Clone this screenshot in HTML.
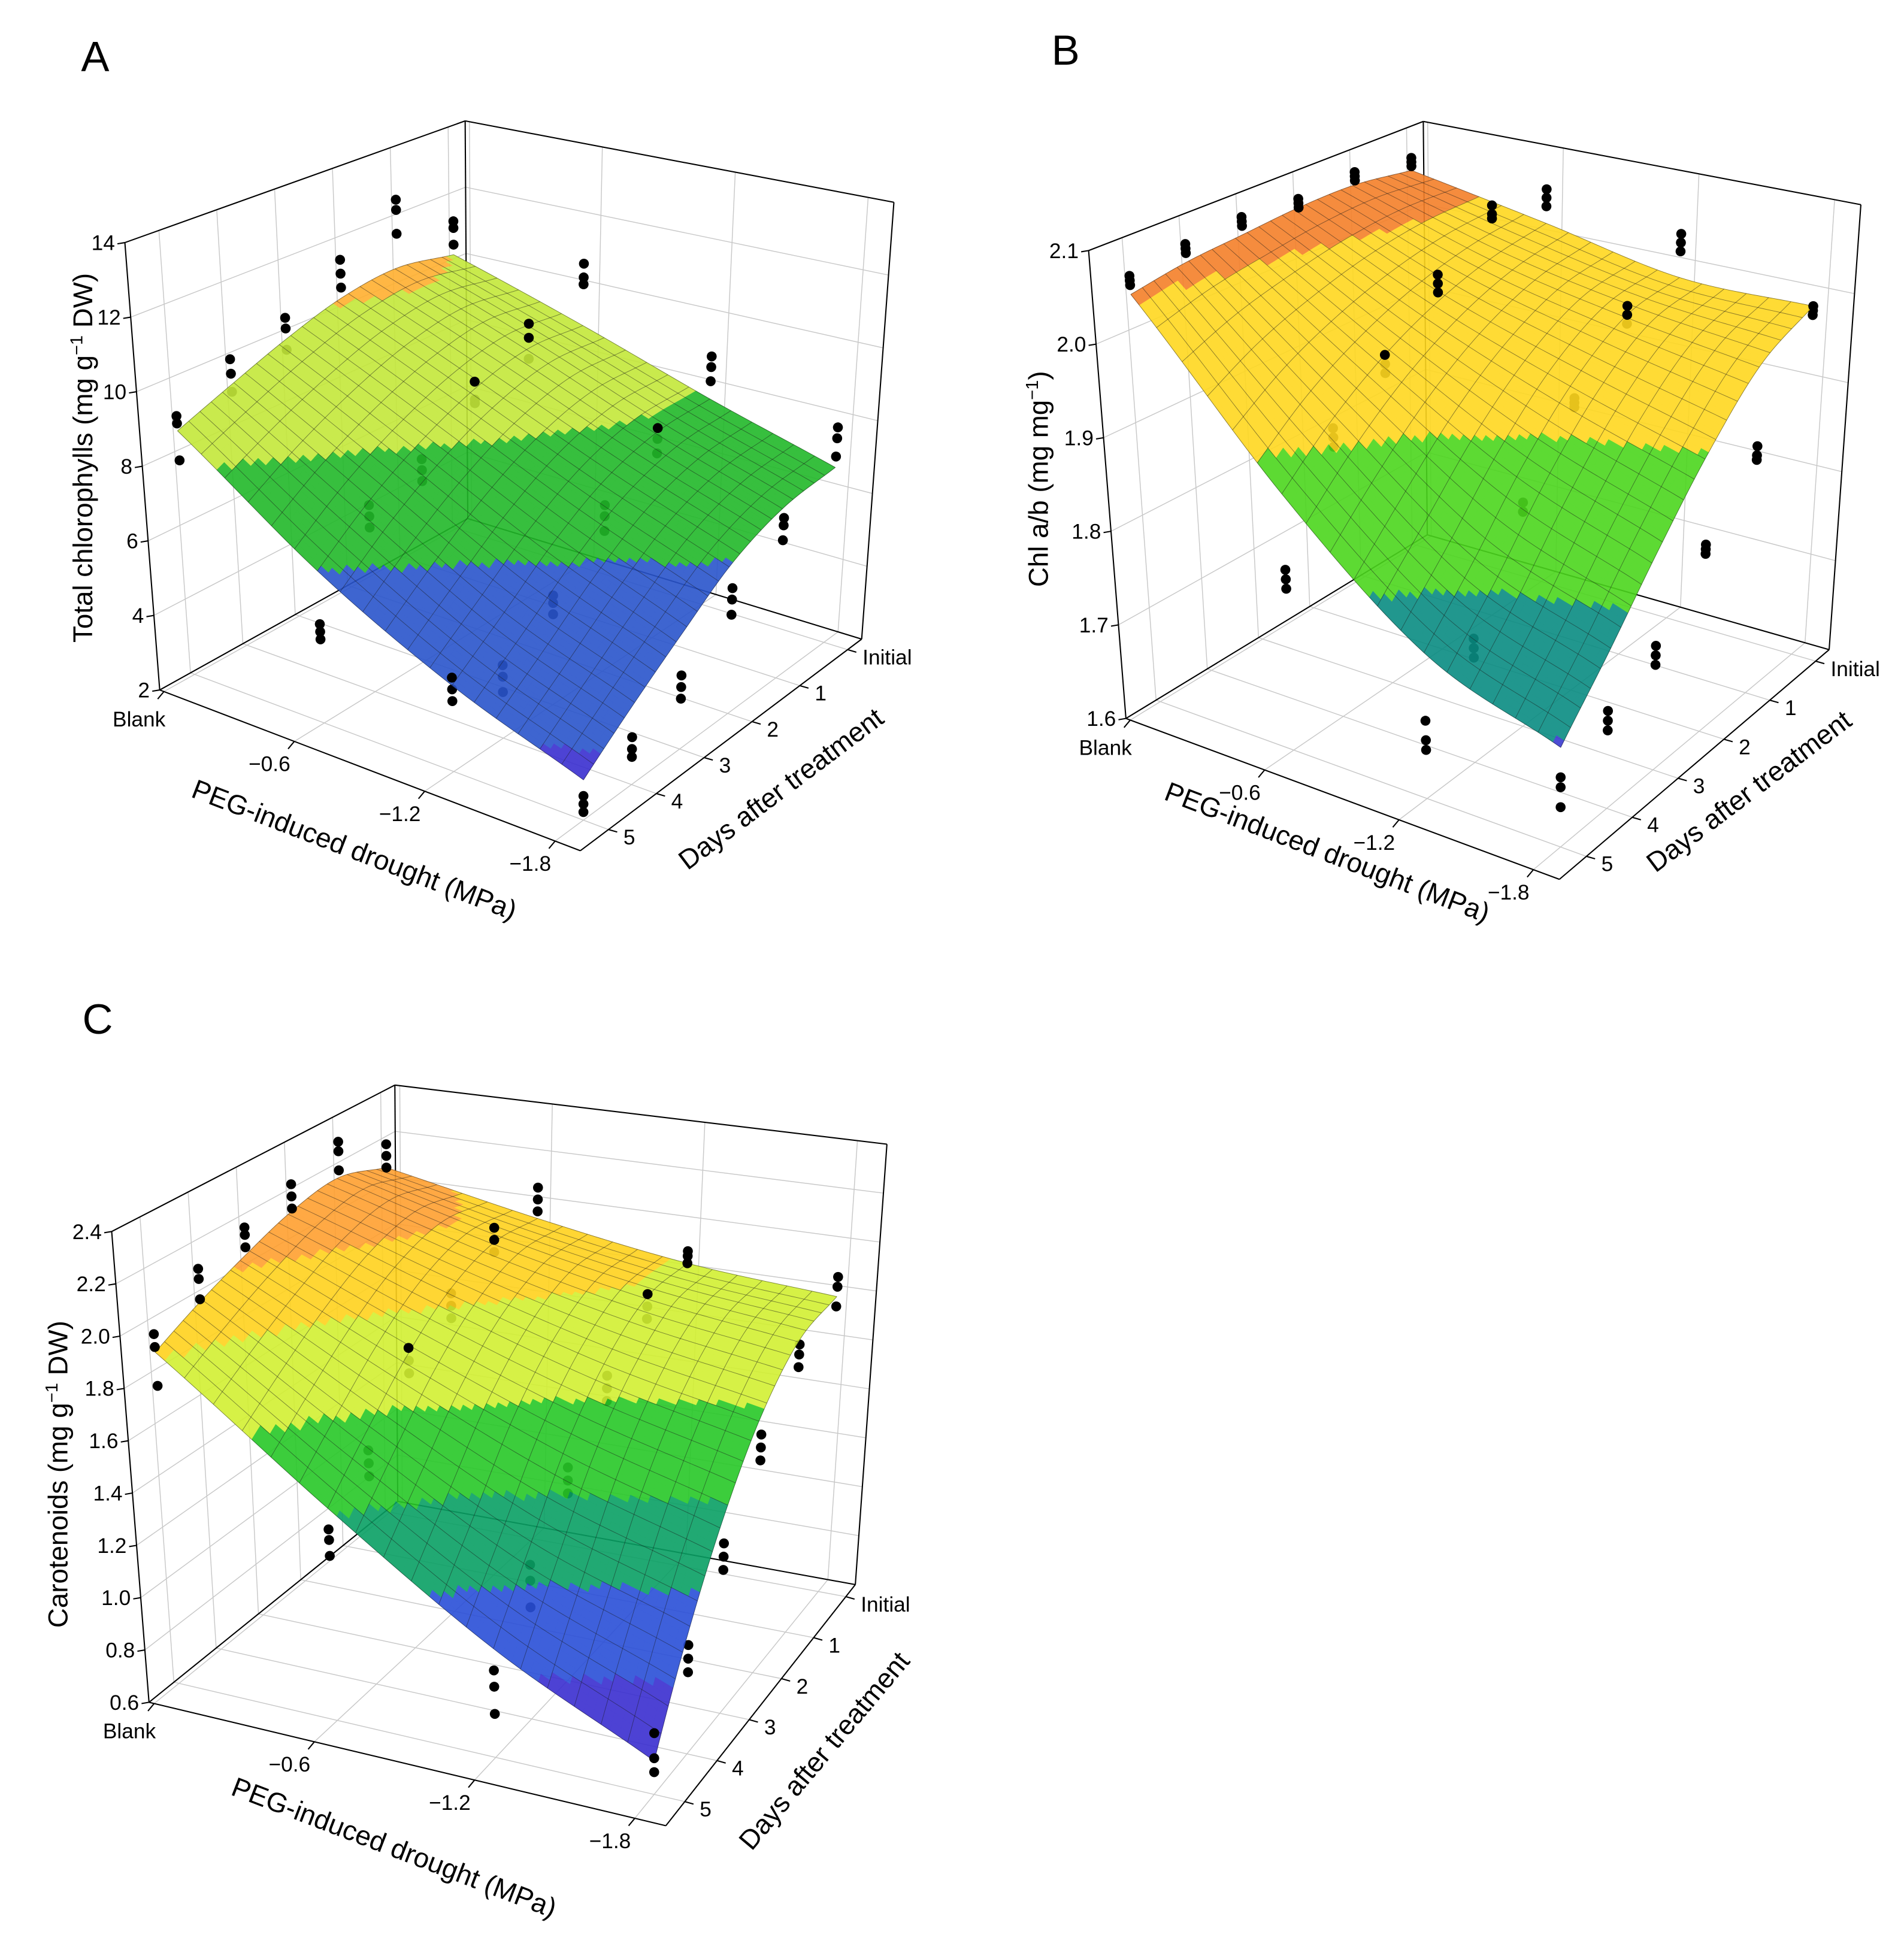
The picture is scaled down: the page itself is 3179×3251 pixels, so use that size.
<!DOCTYPE html>
<html><head><meta charset="utf-8">
<style>
html,body{margin:0;padding:0;background:#fff;}
svg{display:block;font-family:"Liberation Sans",Arial,sans-serif;}
</style></head>
<body>
<svg id="fig" xmlns="http://www.w3.org/2000/svg" width="3179" height="3251" viewBox="0 0 1530 1565">
<rect width="1530" height="1565" fill="#fff"/>
<text x="65" y="57" font-size="34">A</text>
<text x="845" y="52" font-size="34">B</text>
<text x="66" y="831" font-size="34">C</text>
</svg>
<script>
// ---- data ----
const pegLevels = [0, -0.6, -1.2, -1.8];
const pegLabels = ["Blank", "\u22120.6", "\u22121.2", "\u22121.8"];
const dayLevels = [0, 1, 2, 3, 4, 5];
const dayLabels = ["Initial", "1", "2", "3", "4", "5"];

const surfA = [
  [10.2, 10.5, 10.3, 9.8, 9.2, 8.6],
  [9.0, 9.1, 8.7, 8.0, 7.1, 6.0],
  [7.8, 7.7, 7.2, 6.3, 5.2, 4.2],
  [6.8, 6.6, 6.0, 5.0, 4.0, 3.0]
];
const surfB = [
  [2.05, 2.06, 2.06, 2.055, 2.05, 2.04],
  [2.02, 2.01, 1.99, 1.96, 1.92, 1.87],
  [1.99, 1.98, 1.94, 1.88, 1.81, 1.75],
  [1.99, 1.96, 1.90, 1.83, 1.76, 1.70]
];
const surfC = [
  [2.08, 2.15, 2.12, 2.05, 1.97, 1.88],
  [1.95, 1.97, 1.90, 1.76, 1.58, 1.40],
  [1.85, 1.84, 1.72, 1.52, 1.25, 1.00],
  [1.80, 1.76, 1.60, 1.35, 1.05, 0.72]
];

const ptsA = [
 [[11.2,11.0,10.5],[12.5,12.2,11.5],[11.4,11.0,10.6],[10.4,10.1,9.5],[9.9,9.5,9.0],[9.0,8.8,7.8]],
 [[10.8,10.4,10.2],[9.8,9.4,8.8],[8.9,8.4,8.3],[7.5,7.2,6.9],[7.0,6.7,6.4],[4.6,4.4,4.2]],
 [[9.0,8.7,8.3],[7.8,7.5,7.1],[6.5,6.2,5.8],[4.9,4.7,4.4],[3.9,3.6,3.2],[4.4,4.1,3.8]],
 [[7.9,7.6,7.1],[6.3,6.1,5.7],[5.3,5.0,4.6],[3.9,3.6,3.3],[3.2,2.9,2.7],[2.6,2.4,2.2]]
];
const ptsB = [
 [[2.065,2.06,2.055],[2.075,2.07,2.065],[2.07,2.065,2.06],[2.075,2.07,2.065],[2.07,2.065,2.06],[2.06,2.055,2.05]],
 [[2.06,2.05,2.04],[2.07,2.06,2.055],[2.02,2.01,2.0],[1.96,1.95,1.94],[1.91,1.90,1.89],[1.79,1.78,1.77]],
 [[2.04,2.03,2.02],[1.99,1.98,1.97],[1.92,1.915,1.91],[1.84,1.83,1.83],[1.73,1.72,1.71],[1.68,1.66,1.65]],
 [[1.99,1.985,1.98],[1.87,1.86,1.855],[1.80,1.795,1.79],[1.73,1.72,1.71],[1.70,1.69,1.68],[1.67,1.66,1.64]]
];
const ptsC = [
 [[2.18,2.13,2.08],[2.3,2.26,2.18],[2.23,2.18,2.13],[2.16,2.13,2.08],[2.1,2.06,1.98],[1.95,1.9,1.75]],
 [[2.08,2.03,1.98],[2.03,1.98,1.93],[1.88,1.83,1.78],[1.78,1.73,1.68],[1.5,1.45,1.4],[1.32,1.28,1.22]],
 [[1.9,1.88,1.85],[1.85,1.8,1.75],[1.65,1.6,1.55],[1.42,1.37,1.32],[1.18,1.12,1.02],[0.92,0.86,0.76]],
 [[1.88,1.84,1.76],[1.74,1.7,1.65],[1.52,1.47,1.42],[1.24,1.19,1.14],[1.0,0.95,0.9],[0.82,0.73,0.68]]
];

const zTicksA = [2, 4, 6, 8, 10, 12, 14];
const zTicksB = [1.6, 1.7, 1.8, 1.9, 2.0, 2.1];
const zTicksC = [0.6, 0.8, 1.0, 1.2, 1.4, 1.6, 1.8, 2.0, 2.2, 2.4];

const bandLimitsA = [3.4, 6.0, 7.9, 10.2];
const bandColorsA = ["#3a2fd0", "#2a55cc", "#22b92a", "#c4e83a", "#ffb030"];
const bandLimitsB = [1.705, 1.79, 1.9, 2.035];
const bandColorsB = ["#3a3ad0", "#0a8c82", "#4cd61e", "#ffd820", "#f5802a"];
const bandLimitsC = [0.92, 1.15, 1.38, 1.62, 1.86, 2.02];
const bandColorsC = ["#3a2ed0", "#2a4fd8", "#0aa064", "#28c828", "#d2f032", "#ffd21e", "#ffa030"];

// ---- geometry (not data) ----
const geoA = {L:[128.2,554.6],F:[466.3,683.8],R:[692.4,513.7],B:[375.8,416.8],TL:[100.2,195],TB:[373.7,97.2],TR:[718.3,162.6],TF:[466,289]};
const geoB = {L:[904.8,577.5],F:[1253.2,706.8],R:[1470,522.2],B:[1147,429.9],TL:[874.8,201.4],TB:[1143.8,97.6],TR:[1495.5,164.5],TF:[1253,300]};
const geoC = {L:[119.6,1368.3],F:[535,1467.5],R:[687.3,1273.7],B:[319.5,1206.8],TL:[89.6,989.9],TB:[317.2,872.2],TR:[712.7,919.7],TF:[535,1057]};

const NS = "http://www.w3.org/2000/svg";
const svg = document.getElementById("fig");

function mk(tag, attrs, parent){
  const e = document.createElementNS(NS, tag);
  for (const k in attrs) e.setAttribute(k, attrs[k]);
  (parent || svg).appendChild(e);
  return e;
}
function bil(g, a, u, v){
  const [B,R,L,F] = a;
  return [
    (1-u)*(1-v)*g[B][0] + u*(1-v)*g[R][0] + (1-u)*v*g[L][0] + u*v*g[F][0],
    (1-u)*(1-v)*g[B][1] + u*(1-v)*g[R][1] + (1-u)*v*g[L][1] + u*v*g[F][1]
  ];
}
function proj(g, u, v, w){
  const f = bil(g, ["B","R","L","F"], u, v);
  const t = bil(g, ["TB","TR","TL","TF"], u, v);
  return [f[0] + w*(t[0]-f[0]), f[1] + w*(t[1]-f[1])];
}
function uOf(peg){ return 0.01 + 0.93*(peg/-1.8); }
function vOf(day){ return 0.05 + 0.17*day; }
function cr(p0,p1,p2,p3,t){
  return 0.5*((2*p1) + (-p0+p2)*t + (2*p0-5*p1+4*p2-p3)*t*t + (-p0+3*p1-3*p2+p3)*t*t*t);
}
function interp1(arr, x){
  const n = arr.length;
  let i = Math.min(Math.floor(x), n-2); if (i<0) i=0;
  const t = x - i;
  const p0 = i-1 < 0 ? 2*arr[0]-arr[1] : arr[i-1];
  const p3 = i+2 > n-1 ? 2*arr[n-1]-arr[n-2] : arr[i+2];
  return cr(p0, arr[i], arr[i+1], p3, t);
}
function surfAt(grid, pf, df){
  const col = grid.map(row => interp1(row, df));
  return interp1(col, pf);
}

function drawPanel(id, g, surf, pts, zTicks, bandLimits, bandColors, zFmt){
  const zmin = zTicks[0], zmax = zTicks[zTicks.length-1];
  const W = z => (z - zmin)/(zmax - zmin);
  const P = (u,v,w) => proj(g,u,v,w);
  const grp = mk("g", {});
  
  
  const ln = (a,b,st,sw,name) => {
    const e = mk("line", {x1:a[0].toFixed(2), y1:a[1].toFixed(2), x2:b[0].toFixed(2), y2:b[1].toFixed(2), stroke:st, "stroke-width":sw}, grp);
    
    
    return e;
  };
  const gridc = "#c8c8c8";
  zTicks.forEach(z => {
    const w = W(z);
    ln(P(0,0,w), P(0,1,w), gridc, 0.7, 'left-wall-gridline');
    ln(P(0,0,w), P(1,0,w), gridc, 0.7, 'back-wall-gridline');
  });
  dayLevels.forEach(d => {
    const v = vOf(d);
    ln(P(0,v,0), P(0,v,1), gridc, 0.7, 'left-wall-day-gridline');
    ln(P(0,v,0), P(1,v,0), gridc, 0.7, 'floor-day-gridline');
  });
  pegLevels.forEach(p => {
    const u = uOf(p);
    ln(P(u,0,0), P(u,0,1), gridc, 0.7, 'back-wall-peg-gridline');
    ln(P(u,0,0), P(u,1,0), gridc, 0.7, 'floor-peg-gridline');
  });
  const k = "#000";
  ln(g.L, g.TL, k, 1, 'z-axis-line');
  ln(g.TL, g.TB, k, 1, 'box-edge');
  ln(g.TB, g.TR, k, 1, 'box-edge');
  ln(g.TR, g.R, k, 1, 'box-edge');
  ln(g.TB, g.B, k, 1, 'box-edge');
  ln(g.L, g.B, k, 1, 'box-edge');
  ln(g.B, g.R, k, 1, 'box-edge');
  ln(g.L, g.F, k, 1, 'peg-axis-line');
  ln(g.F, g.R, k, 1, 'day-axis-line');

  zTicks.forEach(z => {
    const p = P(0,1,W(z));
    ln([p[0]-6,p[1]+1], p, k, 1, 'z-tick');
    const t = mk("text", {x:(p[0]-8).toFixed(1), y:(p[1]+6).toFixed(1), "font-size":17, "text-anchor":"end"}, grp);
    t.textContent = zFmt(z);
    
    
  });
  pegLevels.forEach((p, i) => {
    const q = P(uOf(p),1,0);
    ln(q, [q[0]-5,q[1]+6], k, 1, 'peg-tick');
    const t = mk("text", {x:(q[0]-20).toFixed(1), y:(q[1]+(i===0?28:24)).toFixed(1), "font-size":17, "text-anchor":"middle"}, grp);
    t.textContent = pegLabels[i];
    
    
  });
  dayLevels.forEach((d, i) => {
    const q = P(1,vOf(d),0);
    ln(q, [q[0]+7,q[1]+2], k, 1, 'day-tick');
    const t = mk("text", {x:(q[0]+12).toFixed(1), y:(q[1]+12).toFixed(1), "font-size":17, "text-anchor":"start"}, grp);
    t.textContent = dayLabels[i];
    
    
  });

  const behind = [], front = [];
  pts.forEach((row, pi) => row.forEach((reps, di) => reps.forEach(val => {
    const s = surf[pi][di];
    (val < s ? behind : front).push([pegLevels[pi], dayLevels[di], val]);
  })));
  const dot = (d, name) => {
    const q = P(uOf(d[0]), vOf(d[1]), W(d[2]));
    const c = mk("circle", {cx:q[0].toFixed(2), cy:q[1].toFixed(2), r:4, fill:"#000"}, grp);
    
    
  };
  behind.forEach(d => dot(d, 'data-point-behind'));

  const pegAt = f => pegLevels[0] + (pegLevels[3]-pegLevels[0])*f;
  const dayAt = f => dayLevels[0] + (dayLevels[5]-dayLevels[0])*f;
  const SP = (fu, fv) => {
    const z = surfAt(surf, 3*fu, 5*fv);
    return {z, p: P(uOf(pegAt(fu)), vOf(dayAt(fv)), W(z))};
  };
  const sg = mk("g", {opacity:0.9}, grp);
  
  
  const FU = 54, FV = 72;
  const cells = [];
  for (let i=0;i<FU;i++) for (let j=0;j<FV;j++) cells.push([i,j]);
  cells.sort((a,b) => (a[0]/FU + a[1]/FV) - (b[0]/FU + b[1]/FV));
  cells.forEach(([i,j]) => {
    const cs = [[i,j],[i+1,j],[i+1,j+1],[i,j+1]].map(([a,b]) => SP(a/FU, b/FV));
    const zm = cs.reduce((s,c)=>s+c.z,0)/4;
    let bi = 0; while (bi < bandLimits.length && zm >= bandLimits[bi]) bi++;
    const col = bandColors[bi];
    const poly = mk("polygon", {
      points: cs.map(c => c.p[0].toFixed(2)+","+c.p[1].toFixed(2)).join(" "),
      fill: col, stroke: col, "stroke-width": 0.35, "stroke-linejoin":"round"
    }, sg);
    
    
  });
  const NU = 18, NV = 24, SUB = 4;
  const mg = mk("g", {fill:"none", stroke:"rgba(25,25,25,0.5)", "stroke-width":0.45}, grp);
  
  
  for (let i=0;i<=NU;i++){
    const ptsL = [];
    for (let j=0;j<=NV*SUB;j++){ const q = SP(i/NU, j/(NV*SUB)).p; ptsL.push(q[0].toFixed(2)+","+q[1].toFixed(2)); }
    const pl = mk("polyline", {points: ptsL.join(" ")}, mg);
    
    
  }
  for (let j=0;j<=NV;j++){
    const ptsL = [];
    for (let i=0;i<=NU*SUB;i++){ const q = SP(i/(NU*SUB), j/NV).p; ptsL.push(q[0].toFixed(2)+","+q[1].toFixed(2)); }
    const pl = mk("polyline", {points: ptsL.join(" ")}, mg);
    
    
  }
  front.forEach(d => dot(d, 'data-point'));
}

drawPanel("panel-a", geoA, surfA, ptsA, zTicksA, bandLimitsA, bandColorsA, z => String(z));
drawPanel("panel-b", geoB, surfB, ptsB, zTicksB, bandLimitsB, bandColorsB, z => z.toFixed(1));
drawPanel("panel-c", geoC, surfC, ptsC, zTicksC, bandLimitsC, bandColorsC, z => z.toFixed(1));

function title(x, y, rot, parts, name){
  const t = mk("text", {x:0, y:0, "font-size":22, "text-anchor":"middle", transform:`translate(${x},${y}) rotate(${rot})`});
  parts.forEach(p => {
    const s = mk("tspan", p.sup ? {"font-size":14, dy:-8} : (p.after ? {dy:8} : {}), t);
    s.textContent = p.t;
  });
  
  
}
title(74, 368, -90, [{t:"Total chlorophylls (mg g"},{t:"\u22121",sup:true},{t:" DW)",after:true}], 'a-z-axis-title');
title(282, 690, 21, [{t:"PEG-induced drought (MPa)"}], 'a-peg-axis-title');
title(632, 640, -37, [{t:"Days after treatment"}], 'a-day-axis-title');
title(842, 385, -90, [{t:"Chl a/b (mg mg"},{t:"\u22121",sup:true},{t:")",after:true}], 'b-z-axis-title');
title(1064, 692, 21, [{t:"PEG-induced drought (MPa)"}], 'b-peg-axis-title');
title(1410, 642, -37, [{t:"Days after treatment"}], 'b-day-axis-title');
title(54, 1185, -90, [{t:"Carotenoids (mg g"},{t:"\u22121",sup:true},{t:" DW)",after:true}], 'c-z-axis-title');
title(314, 1492, 21, [{t:"PEG-induced drought (MPa)"}], 'c-peg-axis-title');
title(668, 1412, -50, [{t:"Days after treatment"}], 'c-day-axis-title');
</script>
</body></html>
